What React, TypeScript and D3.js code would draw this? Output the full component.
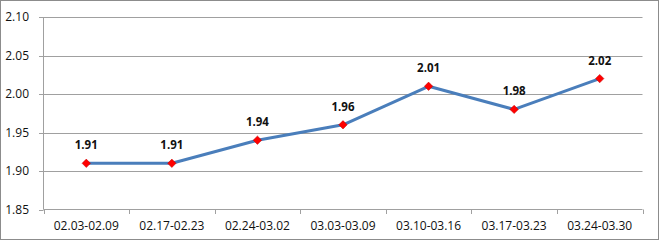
import React from "react";
import * as d3 from "d3";

const categories = ["02.03-02.09", "02.17-02.23", "02.24-03.02", "03.03-03.09", "03.10-03.16", "03.17-03.23", "03.24-03.30"];
const values = [1.91, 1.91, 1.94, 1.96, 2.01, 1.98, 2.02];
const yTicks = [1.85, 1.90, 1.95, 2.00, 2.05, 2.10];

const W = 660;
const H = 241;
const FONT = "'Open Sans', 'Noto Sans', sans-serif";

export default function App() {
  const x = d3.scaleBand<string>().domain(categories).range([43.5, 642.5]);
  const y = d3.scaleLinear().domain([1.85, 2.10]).range([209.5, 17]);
  const line = d3
    .line<number>()
    .x((_, i) => (x(categories[i]) as number) + x.bandwidth() / 2)
    .y((d) => y(d));
  const bounds = categories.map((c) => x(c) as number).concat([x.range()[1]]);

  return (
    <div style={{ position: "fixed", left: 0, top: 0, width: W, height: H, background: "#fff" }}>
      <svg width={W} height={H} style={{ display: "block" }}>
        <rect x={0.5} y={0.5} width={W - 2} height={H - 2} fill="#fff" stroke="#8c8c8c" strokeWidth={1} />
        {yTicks.map((t) => (
          <g key={t}>
            {t > 1.85 && (
              <line x1={39} x2={642.5} y1={Math.round(y(t)) + 0.5} y2={Math.round(y(t)) + 0.5} stroke="#a0a0a0" strokeWidth={1} />
            )}
            {t === 1.85 && (
              <line x1={39} x2={43.5} y1={Math.round(y(t)) + 0.5} y2={Math.round(y(t)) + 0.5} stroke="#a0a0a0" strokeWidth={1} />
            )}
            <text x={29} y={y(t)} dy="0.36em" textAnchor="end" fontFamily={FONT} fontSize={12} fill="#111">
              {t.toFixed(2)}
            </text>
          </g>
        ))}
        <line x1={43.5} x2={43.5} y1={17} y2={209.5} stroke="#a0a0a0" strokeWidth={1} />
        <line x1={43.5} x2={642.5} y1={209.5} y2={209.5} stroke="#a0a0a0" strokeWidth={1} />
        {bounds.map((b, i) => (
          <line key={i} x1={Math.round(b) + 0.5} x2={Math.round(b) + 0.5} y1={209.5} y2={214} stroke="#a0a0a0" strokeWidth={1} />
        ))}
        {categories.map((c) => (
          <text key={c} x={(x(c) as number) + x.bandwidth() / 2} y={230} textAnchor="middle" fontFamily={FONT} fontSize={12} fill="#111">
            {c}
          </text>
        ))}
        <path d={line(values) || ""} fill="none" stroke="#4a7ebb" strokeWidth={3} strokeLinejoin="round" />
        {values.map((v, i) => {
          const cx = (x(categories[i]) as number) + x.bandwidth() / 2;
          const cy = y(v);
          const s = 4.2;
          return (
            <g key={i}>
              <path d={`M${cx},${cy - s}L${cx + s},${cy}L${cx},${cy + s}L${cx - s},${cy}Z`} fill="#ff0000" stroke="#c00000" strokeWidth={0.5} />
              <text x={cx} y={cy - 14} textAnchor="middle" fontFamily={FONT} fontWeight="bold" fontSize={11.5} fill="#111">
                {v.toFixed(2)}
              </text>
            </g>
          );
        })}
      </svg>
    </div>
  );
}
